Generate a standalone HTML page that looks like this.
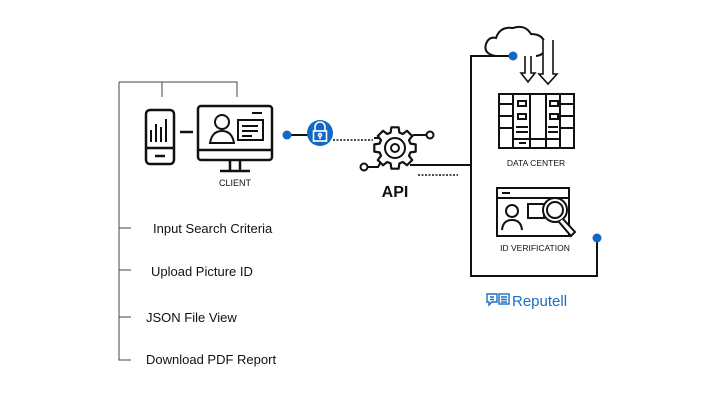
<!DOCTYPE html>
<html><head><meta charset="utf-8"><style>
html,body{margin:0;padding:0;background:#fff;}
svg{display:block}
text{font-family:"Liberation Sans",sans-serif;fill:#111}
</style></head><body>
<svg width="720" height="405" viewBox="0 0 720 405" xmlns="http://www.w3.org/2000/svg">
<g fill="none" stroke="#444" stroke-width="1">
 <path d="M119 82 V360 H131 M119 82 H237 V97 M162 82 V97 M119 228 H131 M119 270 H131 M119 317 H131"/>
</g>
<text x="153" y="233" font-size="13">Input Search Criteria</text>
<text x="151" y="276" font-size="13">Upload Picture ID</text>
<text x="146" y="322" font-size="13">JSON File View</text>
<text x="146" y="364" font-size="13">Download PDF Report</text>
<g fill="none" stroke="#111" stroke-width="2.5">
 <rect x="146" y="110" width="28" height="54" rx="4"/>
 <path d="M146 148 H174 M155 156 H165"/>
 <path d="M151 142 V130 M156 142 V124 M161 142 V127 M166 142 V119" stroke-width="2"/>
 <path d="M180 132 H193"/>
 <rect x="198" y="106" width="74" height="54" rx="3"/>
 <path d="M198 150 H272 M230 160 V170 M240 160 V170 M220 171 H250"/>
 <circle cx="222" cy="122" r="7" stroke-width="2"/>
 <path d="M210 143 Q212 131 222 131 Q232 131 234 143 Z" stroke-width="2"/>
 <rect x="238" y="120" width="25" height="20" stroke-width="2"/>
 <path d="M242 126 H258 M242 131 H258 M242 136 H252 M252 113 H262" stroke-width="2"/>
</g>
<text x="235" y="186" font-size="9" text-anchor="middle">CLIENT</text>
<g stroke="#111" stroke-width="2" fill="none">
 <path d="M287 135 H308"/>
 <path d="M333 140 H373" stroke-dasharray="2 1.5" stroke-width="1.5"/>
 <path d="M374 138 H381"/>
 <path d="M410 137 L414 135 H426"/>
 <circle cx="430" cy="135" r="3.5"/>
 <circle cx="364" cy="167" r="3.5"/>
 <path d="M368 167 H378 L382 160"/>
 <path d="M410 165 H471"/>
 <path d="M418 175 H458" stroke-dasharray="2 1.5" stroke-width="1.5"/>
 <polygon stroke-width="2.2" stroke-linejoin="round" points="410.4,143.6 415.7,144.4 415.7,151.6 410.4,152.4 409.0,155.8 412.2,160.0 407.0,165.2 402.8,162.0 399.4,163.4 398.6,168.7 391.4,168.7 390.6,163.4 387.2,162.0 383.0,165.2 377.8,160.0 381.0,155.8 379.6,152.4 374.3,151.6 374.3,144.4 379.6,143.6 381.0,140.2 377.8,136.0 383.0,130.8 387.2,134.0 390.6,132.6 391.4,127.3 398.6,127.3 399.4,132.6 402.8,134.0 407.0,130.8 412.2,136.0 409.0,140.2" fill="#fff"/>
 <circle cx="395" cy="148" r="10"/>
 <circle cx="395" cy="148" r="4"/>
</g>
<circle cx="287" cy="135" r="4.5" fill="#1168c5"/>
<circle cx="320" cy="133" r="13" fill="#1168c5"/>
<g stroke="#fff" stroke-width="1.6" fill="none">
 <path d="M315 131 V127 A5 5 0 0 1 325 127 V131"/>
 <rect x="313.5" y="131" width="13" height="10" fill="#1168c5"/>
 <circle cx="320" cy="135" r="1.5"/><path d="M320 137 V139"/>
</g>
<text x="395" y="197" font-size="16" text-anchor="middle" font-weight="bold">API</text>
<g fill="none" stroke="#111" stroke-width="2">
 <path d="M510 56 H471 V276 H597 V238"/>
 <path d="M496 56 Q483 54 486 44 Q489 36 496 38 Q500 26 513 28 Q525 24 531 34 Q545 34 545 47 Q545 55 536 56"/>
 <path d="M525 56 V73 H521 L528 82 L535 73 H531 V56" stroke-width="1.6" fill="#fff"/>
 <path d="M543 40 V74 H539 L548 84 L557 74 H553 V40" stroke-width="1.6" fill="#fff"/>
 <rect x="499" y="94" width="75" height="54"/>
 <path d="M513 94 V148 M530 94 V148 M546 94 V148 M560 94 V148 M513 139 H560"/>
 <path d="M499 104 H513 M499 116 H513 M499 128 H513 M560 104 H574 M560 116 H574 M560 128 H574"/>
 <rect x="518" y="101" width="8" height="5"/><rect x="550" y="101" width="8" height="5"/>
 <rect x="518" y="114" width="8" height="5"/><rect x="550" y="114" width="8" height="5"/>
 <path d="M516 127 H528 M516 132 H528 M548 127 H558 M548 132 H558 M519 143 H526"/>
 <rect x="497" y="188" width="72" height="48"/>
 <path d="M497 198 H569 M502 193 H510"/>
 <circle cx="512" cy="211" r="6"/>
 <path d="M502 230 Q503 220 512 220 Q521 220 522 230"/>
 <rect x="528" y="204" width="16" height="14"/>
 <circle cx="555" cy="210" r="12" fill="#fff"/><circle cx="555" cy="210" r="8"/>
 <path d="M563 219 L575 232 L571 236 L559 222" fill="#fff"/>
</g>
<circle cx="513" cy="56" r="4.5" fill="#1168c5"/>
<circle cx="597" cy="238" r="4.5" fill="#1168c5"/>
<text x="536" y="166" font-size="8.5" text-anchor="middle">DATA CENTER</text>
<text x="535" y="251" font-size="8.5" text-anchor="middle">ID VERIFICATION</text>
<g fill="none" stroke="#1a6fc4" stroke-width="1.4">
 <path d="M487 294 H497 V302 H492 L489 305 V302 H487 Z"/>
 <path d="M490 297 H494 M490 299.5 H494"/>
 <rect x="499" y="294" width="10" height="10"/>
 <path d="M501 297 H507 M501 299.5 H507 M501 302 H507"/>
</g>
<text x="512" y="306" font-size="15" style="fill:#1a6fc4">Reputell</text>
</svg>
</body></html>
